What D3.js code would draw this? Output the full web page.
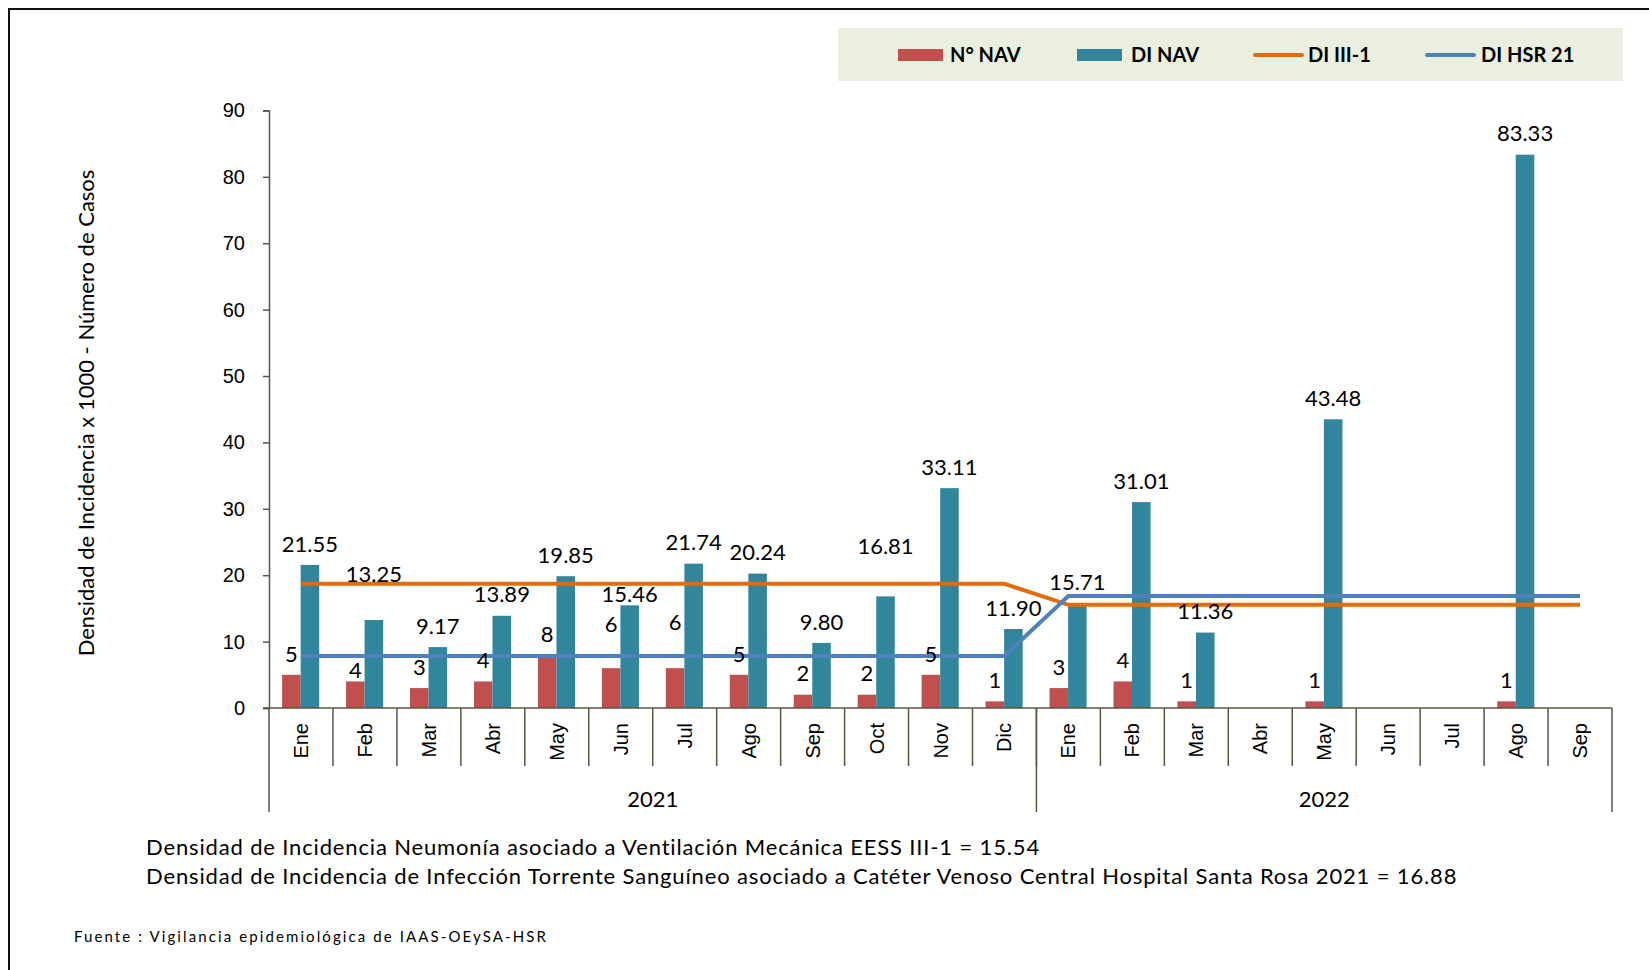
<!DOCTYPE html>
<html>
<head>
<meta charset="utf-8">
<script src="https://cdn.jsdelivr.net/npm/d3@7"></script>
<style>
  body { margin: 0; background: #fff; }
  svg { display: block; }
  .lbl { font-family: Lato, "Open Sans", sans-serif; font-size: 22px; fill: #000; }
  .note { font-family: Lato, "Open Sans", sans-serif; font-size: 22px; letter-spacing: 0.85px; fill: #000; }
  .tick text { font-family: "Liberation Sans", Arial, sans-serif; font-size: 20px; fill: #000; }
</style>
</head>
<body>
<svg></svg>
<script>
// data
const YEARS = ["2021", "2022"];
const MONTHS_2021 = ["Ene", "Feb", "Mar", "Abr", "May", "Jun", "Jul", "Ago", "Sep", "Oct", "Nov", "Dic"];
const MONTHS_2022 = ["Ene", "Feb", "Mar", "Abr", "May", "Jun", "Jul", "Ago", "Sep"];

const N_NAV = [5, 4, 3, 4, 8, 6, 6, 5, 2, 2, 5, 1, 3, 4, 1, null, 1, null, null, 1, null];
const DI_NAV = [21.55, 13.25, 9.17, 13.89, 19.85, 15.46, 21.74, 20.24, 9.80, 16.81, 33.11, 11.90,
                15.71, 31.01, 11.36, null, 43.48, null, null, 83.33, null];
const DI_III1 = [18.7, 18.7, 18.7, 18.7, 18.7, 18.7, 18.7, 18.7, 18.7, 18.7, 18.7, 18.7,
                 15.54, 15.54, 15.54, 15.54, 15.54, 15.54, 15.54, 15.54, 15.54];
const DI_HSR21 = [7.85, 7.85, 7.85, 7.85, 7.85, 7.85, 7.85, 7.85, 7.85, 7.85, 7.85, 7.85,
                  16.88, 16.88, 16.88, 16.88, 16.88, 16.88, 16.88, 16.88, 16.88];
const Y_TICKS = [0, 10, 20, 30, 40, 50, 60, 70, 80, 90];

const NOTE_1 = "Densidad de Incidencia Neumonía asociado a Ventilación Mecánica EESS III-1 = 15.54";
const NOTE_2 = "Densidad de Incidencia de Infección Torrente Sanguíneo asociado a Catéter Venoso Central Hospital Santa Rosa 2021 = 16.88";
const SOURCE = "Fuente : Vigilancia epidemiológica de IAAS-OEySA-HSR";

// label lifts that were moved by hand in the original (px above bar top)
const DI_LIFT = {"2021-Feb": 46, "2021-Jun": 11, "2021-Oct": 50};
const N_LIFT = {"2021-Feb": 11, "2021-Jun": 44, "2021-Jul": 46};
const LIFT = 21;

const COLORS = {nNav: "#c0504d", diNav: "#31859c", iii1: "#e36c09", hsr: "#4f81bd", axis: "#5a5443"};

const WIDTH = 1649, HEIGHT = 970;
const PLOT = {left: 269, right: 1612, top: 110.4, bottom: 708};

// build categories
const cats = [];
MONTHS_2021.forEach(m => cats.push({key: YEARS[0] + "-" + m, month: m, year: YEARS[0]}));
MONTHS_2022.forEach(m => cats.push({key: YEARS[1] + "-" + m, month: m, year: YEARS[1]}));
cats.forEach((c, i) => {
  c.n = N_NAV[i]; c.di = DI_NAV[i]; c.iii1 = DI_III1[i]; c.hsr = DI_HSR21[i];
});

const svg = d3.select('svg')
.attr('width', WIDTH)
.attr('height', HEIGHT);

// frame (top & left only, as in the cropped original)
svg.append('path')
.attr('d', `M9,${HEIGHT} V9 H${WIDTH}`)
.attr('fill', 'none')
.attr('stroke', '#111')
.attr('stroke-width', 2);

const xScale = d3.scaleBand()
.domain(cats.map(d => d.key))
.range([PLOT.left, PLOT.right]);
const yScale = d3.scaleLinear()
.domain([0, 90])
.range([PLOT.bottom, PLOT.top]);

const bw = xScale.bandwidth();
const barW = bw * 0.29;
const barOff = bw * 0.205;

const chart = svg.append('g');

// bars N° NAV
chart.selectAll('.barN')
.data(cats.filter(d => d.n != null))
.enter()
.append('rect')
.attr('class', 'barN')
.attr('x', d => xScale(d.key) + barOff)
.attr('width', barW)
.attr('y', d => yScale(d.n))
.attr('height', d => PLOT.bottom - yScale(d.n))
.style('fill', COLORS.nNav);

// bars DI NAV
chart.selectAll('.barD')
.data(cats.filter(d => d.di != null))
.enter()
.append('rect')
.attr('class', 'barD')
.attr('x', d => xScale(d.key) + barOff + barW)
.attr('width', barW)
.attr('y', d => yScale(d.di))
.attr('height', d => PLOT.bottom - yScale(d.di))
.style('fill', COLORS.diNav);

// lines
const line = key => d3.line()
.x(d => xScale(d.key) + bw / 2)
.y(d => yScale(d[key]));

chart.append('path')
.datum(cats)
.attr('d', line('iii1'))
.attr('fill', 'none')
.attr('stroke', COLORS.iii1)
.attr('stroke-width', 4);

chart.append('path')
.datum(cats)
.attr('d', line('hsr'))
.attr('fill', 'none')
.attr('stroke', COLORS.hsr)
.attr('stroke-width', 4);

// labels
chart.selectAll('.labN')
.data(cats.filter(d => d.n != null))
.enter()
.append('text')
.attr('class', 'lbl')
.attr('text-anchor', 'middle')
.attr('dy', '0.35em')
.attr('x', d => xScale(d.key) + barOff + barW / 2)
.attr('y', d => yScale(d.n) - (N_LIFT[d.key] || LIFT))
.text(d => d.n);

chart.selectAll('.labD')
.data(cats.filter(d => d.di != null))
.enter()
.append('text')
.attr('class', 'lbl')
.attr('text-anchor', 'middle')
.attr('dy', '0.35em')
.attr('x', d => xScale(d.key) + barOff + barW * 1.5)
.attr('y', d => yScale(d.di) - (DI_LIFT[d.key] || LIFT))
.text(d => d.di.toFixed(2));

// y axis
const yAxis = svg.append('g')
.attr('transform', `translate(${PLOT.left},0)`)
.call(d3.axisLeft(yScale).tickValues(Y_TICKS).tickSize(6).tickPadding(18));
yAxis.selectAll('line, path').attr('stroke', COLORS.axis).attr('stroke-width', 1.5);

// x axis: baseline + category separators + year separators
const axisG = svg.append('g').attr('stroke', COLORS.axis).attr('stroke-width', 1.5);
axisG.append('line')
.attr('x1', PLOT.left - 6).attr('x2', PLOT.right)
.attr('y1', PLOT.bottom).attr('y2', PLOT.bottom);

axisG.selectAll('.sep')
.data(cats.slice(1))
.enter()
.append('line')
.attr('x1', d => xScale(d.key)).attr('x2', d => xScale(d.key))
.attr('y1', PLOT.bottom).attr('y2', 766);

const yearEdges = [PLOT.left, xScale(YEARS[1] + "-" + MONTHS_2022[0]), PLOT.right];
axisG.selectAll('.ysep')
.data(yearEdges)
.enter()
.append('line')
.attr('x1', d => d).attr('x2', d => d)
.attr('y1', PLOT.bottom).attr('y2', 812);

// month labels
svg.selectAll('.month')
.data(cats)
.enter()
.append('text')
.attr('font-family', '"Liberation Sans", Arial, sans-serif')
.attr('font-size', 20)
.attr('text-anchor', 'end')
.attr('dy', '0.35em')
.attr('transform', d => `translate(${xScale(d.key) + bw / 2},723) rotate(-90)`)
.text(d => d.month);

// year labels
svg.selectAll('.year')
.data(YEARS)
.enter()
.append('text')
.attr('class', 'lbl')
.attr('text-anchor', 'middle')
.attr('dy', '0.35em')
.attr('x', (d, i) => (yearEdges[i] + yearEdges[i + 1]) / 2)
.attr('y', 799)
.text(d => d);

// y title
svg.append('text')
.attr('class', 'lbl')
.attr('text-anchor', 'middle')
.attr('dy', '0.35em')
.attr('transform', 'translate(86,413) rotate(-90)')
.text('Densidad de Incidencia x 1000 - Número de Casos');

// legend
const legend = svg.append('g');
legend.append('rect')
.attr('x', 838).attr('y', 28).attr('width', 785).attr('height', 53)
.attr('fill', '#ebefdf');

const LEG = [
  {name: "N° NAV", color: COLORS.nNav, kind: "bar", x: 898, tx: 950},
  {name: "DI NAV", color: COLORS.diNav, kind: "bar", x: 1077, tx: 1131},
  {name: "DI III-1", color: COLORS.iii1, kind: "line", x: 1255, tx: 1308},
  {name: "DI HSR 21", color: COLORS.hsr, kind: "line", x: 1427, tx: 1481}
];
LEG.forEach(l => {
  if (l.kind === "bar") {
    legend.append('rect').attr('x', l.x).attr('y', 49).attr('width', 45).attr('height', 12).attr('fill', l.color);
  } else {
    legend.append('line').attr('x1', l.x).attr('x2', l.x + 47).attr('y1', 55).attr('y2', 55)
    .attr('stroke', l.color).attr('stroke-width', 4).attr('stroke-linecap', 'round');
  }
  legend.append('text')
  .attr('x', l.tx).attr('y', 55).attr('dy', '0.35em')
  .attr('font-family', 'Lato, sans-serif').attr('font-weight', 'bold').attr('font-size', 20)
  .text(l.name);
});

// notes
svg.append('text').attr('class', 'note').attr('x', 146).attr('y', 847).attr('dy', '0.35em').text(NOTE_1);
svg.append('text').attr('class', 'note').attr('x', 146).attr('y', 876).attr('dy', '0.35em').text(NOTE_2);
svg.append('text')
.attr('x', 74).attr('y', 937).attr('dy', '0.35em')
.attr('font-family', 'Lato, sans-serif').attr('font-size', 15).attr('letter-spacing', 2.1)
.text(SOURCE);
</script>
</body>
</html>
